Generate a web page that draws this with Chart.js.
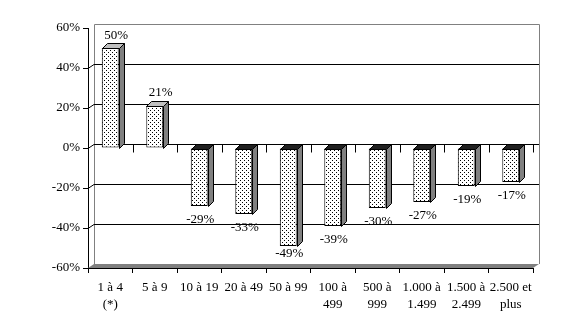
<!DOCTYPE html>
<html><head><meta charset="utf-8">
<script src="https://cdn.jsdelivr.net/npm/chart.js@4/dist/chart.umd.min.js"></script>
<style>html,body{margin:0;padding:0;background:#fff;}#wrap{width:585px;height:329px;}</style>
</head><body><div id="wrap"><canvas id="c" width="585" height="329"></canvas></div>
<script>
const categories = [["1 à 4","(*)"],["5 à 9"],["10 à 19"],["20 à 49"],["50 à 99"],["100 à","499"],["500 à","999"],["1.000 à","1.499"],["1.500 à","2.499"],["2.500 et","plus"]];
const values = [50,21,-29,-33,-49,-39,-30,-27,-19,-17];
const yTicks = [-60,-40,-20,0,20,40,60];

const FONT = "'Liberation Serif', 'Times New Roman', serif";
function makePattern(bg){
  const p=document.createElement('canvas');p.width=4;p.height=4;
  const g=p.getContext('2d');g.fillStyle=bg;g.fillRect(0,0,4,4);
  g.fillStyle='#000';g.fillRect(0,0,1,1);g.fillRect(2,2,1,1);
  return document.getElementById('c').getContext('2d').createPattern(p,'repeat');
}
const frontPat = makePattern('#ffffff');
const WX=6, WY=-4, D=5;

const wallPlugin={id:'wall',
  beforeDatasetsDraw(chart){
    const {ctx,chartArea:a,scales:{x,y}}=chart;
    ctx.save();
    ctx.fillStyle='#808080';
    ctx.beginPath();ctx.moveTo(a.left,a.bottom);ctx.lineTo(a.left+WX,a.bottom+WY);ctx.lineTo(a.right+WX,a.bottom+WY);ctx.lineTo(a.right,a.bottom);ctx.closePath();ctx.fill();
    ctx.strokeStyle='#808080';ctx.lineWidth=1;
    ctx.beginPath();
    ctx.moveTo(a.left+WX+0.5,a.bottom+WY);ctx.lineTo(a.left+WX+0.5,a.top+WY+0.5);ctx.lineTo(a.right+WX+0.5,a.top+WY+0.5);ctx.lineTo(a.right+WX+0.5,a.bottom+WY);
    ctx.stroke();
    ctx.strokeStyle='#000';
    yTicks.forEach(v=>{
      if(v===-60||v===60) return;
      const py=Math.round(y.getPixelForValue(v))+0.5;
      ctx.beginPath();ctx.moveTo(a.left,py);ctx.lineTo(a.left+WX,py+WY);ctx.lineTo(a.right+WX,py+WY);ctx.stroke();
    });
    const y0=Math.round(y.getPixelForValue(0))+0.5;
    for(let i=0;i<=categories.length;i++){
      const px=Math.round(a.left+(a.right-a.left)*i/categories.length)+0.5;
      ctx.beginPath();ctx.moveTo(px,y0+WY);ctx.lineTo(px,y0+4);ctx.stroke();
    }
    ctx.restore();
  },
  afterDatasetsDraw(chart){
    const {ctx,chartArea:a}=chart;const meta=chart.getDatasetMeta(0);
    ctx.save();ctx.strokeStyle='#000';ctx.lineWidth=1;
    meta.data.forEach((bar,i)=>{
      const v=values[i];
      const x1=Math.round(bar.x-bar.width/2)+0.5, x2=Math.round(bar.x+bar.width/2)+0.5;
      const yt=Math.round(Math.min(bar.y,bar.base))+0.5, yb=Math.round(Math.max(bar.y,bar.base))+0.5;
      ctx.fillStyle = v>=0 ? '#c0c0c0' : '#202020';
      ctx.beginPath();ctx.moveTo(x1,yt);ctx.lineTo(x1+D,yt-D);ctx.lineTo(x2+D,yt-D);ctx.lineTo(x2,yt);ctx.closePath();ctx.fill();ctx.stroke();
      ctx.fillStyle='#808080';
      ctx.beginPath();ctx.moveTo(x2,yt);ctx.lineTo(x2+D,yt-D);ctx.lineTo(x2+D,yb-D);ctx.lineTo(x2,yb);ctx.closePath();ctx.fill();ctx.stroke();
      ctx.fillStyle='#000';ctx.font='13px '+FONT;ctx.textAlign='center';ctx.textBaseline='middle';
      if(v>=0) ctx.fillText(v+'%', bar.x+6, Math.max(bar.y-13, a.top+8));
      else ctx.fillText(v+'%', bar.x+1, Math.min(bar.y+14, a.bottom-14));
    });
    ctx.restore();
  }
};

new Chart(document.getElementById('c'),{
  type:'bar',
  data:{labels:categories,datasets:[{data:values,backgroundColor:frontPat,borderColor:'#000',borderWidth:1,borderSkipped:false,categoryPercentage:1,barPercentage:0.38}]},
  options:{
    responsive:false,animation:false,devicePixelRatio:1,
    layout:{padding:{left:0,right:52,top:28,bottom:0}},
    plugins:{legend:{display:false},tooltip:{enabled:false}},
    scales:{
      x:{
        afterFit(s){s.height=61;},
        grid:{drawOnChartArea:false,drawTicks:true,tickLength:5,color:'#000',offset:true},
        border:{display:true,color:'#000'},
        ticks:{color:'#000',font:{family:FONT,size:13,lineHeight:1.3},padding:6,maxRotation:0,autoSkip:false}
      },
      y:{
        min:-60,max:60,
        afterFit(s){s.width=88;},
        afterBuildTicks(s){s.ticks=yTicks.map(v=>({value:v}));},
        grid:{drawOnChartArea:false,drawTicks:true,tickLength:5,color:'#000'},
        border:{display:true,color:'#000'},
        ticks:{color:'#000',font:{family:FONT,size:13},padding:3,callback:v=>v+'%'}
      }
    }
  },
  plugins:[wallPlugin]
});
</script></body></html>
